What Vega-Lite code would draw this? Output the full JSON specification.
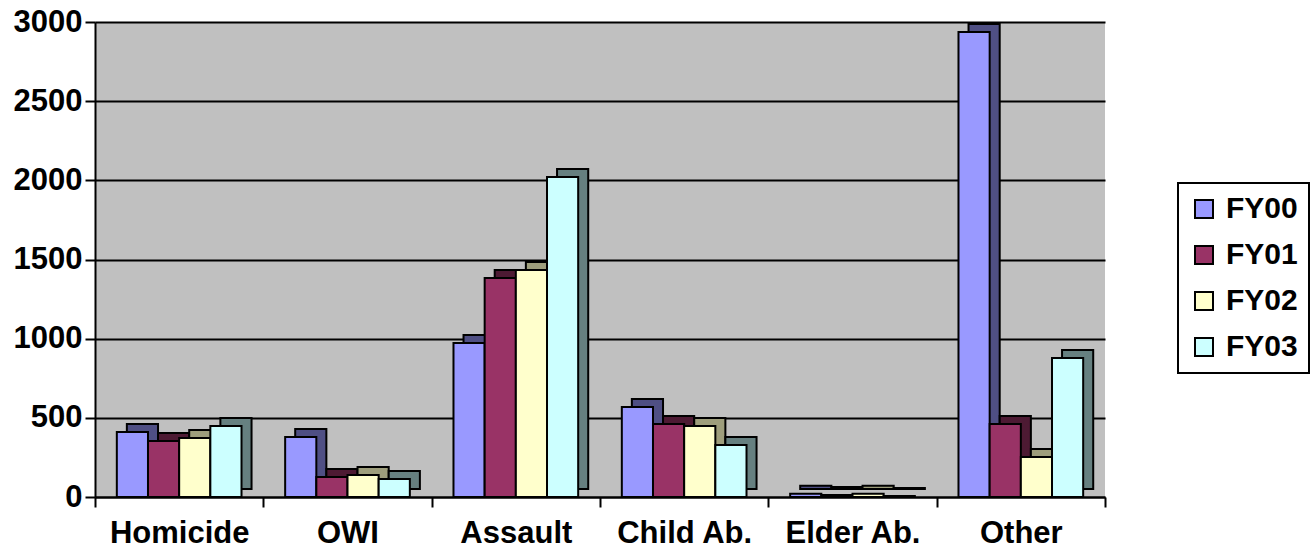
{
  "$schema": "https://vega.github.io/schema/vega-lite/v6.json",
  "autosize": {"type": "none"},
  "width": 1010,
  "height": 475,
  "padding": {"left": 95, "top": 22, "right": 207, "bottom": 51},
  "background": "white",
  "config": {
    "view": {"fill": "#c0c0c0", "stroke": null},
    "font": "Liberation Sans"
  },
  "data": {
    "values": [
      {"category": "Homicide", "year": "FY00", "value": 410},
      {"category": "Homicide", "year": "FY01", "value": 354},
      {"category": "Homicide", "year": "FY02", "value": 373},
      {"category": "Homicide", "year": "FY03", "value": 448},
      {"category": "OWI", "year": "FY00", "value": 379},
      {"category": "OWI", "year": "FY01", "value": 126},
      {"category": "OWI", "year": "FY02", "value": 139},
      {"category": "OWI", "year": "FY03", "value": 114},
      {"category": "Assault", "year": "FY00", "value": 973},
      {"category": "Assault", "year": "FY01", "value": 1383},
      {"category": "Assault", "year": "FY02", "value": 1434},
      {"category": "Assault", "year": "FY03", "value": 2021},
      {"category": "Child Ab.", "year": "FY00", "value": 568},
      {"category": "Child Ab.", "year": "FY01", "value": 461},
      {"category": "Child Ab.", "year": "FY02", "value": 448},
      {"category": "Child Ab.", "year": "FY03", "value": 328},
      {"category": "Elder Ab.", "year": "FY00", "value": 20},
      {"category": "Elder Ab.", "year": "FY01", "value": 12},
      {"category": "Elder Ab.", "year": "FY02", "value": 20},
      {"category": "Elder Ab.", "year": "FY03", "value": 6},
      {"category": "Other", "year": "FY00", "value": 2937},
      {"category": "Other", "year": "FY01", "value": 461},
      {"category": "Other", "year": "FY02", "value": 253},
      {"category": "Other", "year": "FY03", "value": 878}
    ]
  },
  "encoding": {
    "x": {
      "field": "category", "type": "nominal", "sort": null,
      "scale": {"paddingInner": 0, "paddingOuter": 0},
      "axis": {
        "title": null, "labelAngle": 0, "labelFont": "Liberation Sans", "labelFontSize": 31,
        "labelFontWeight": "bold", "labelColor": "black", "labelPadding": 11,
        "domainColor": "black", "domainWidth": 2, "tickColor": "black", "tickWidth": 2,
        "tickSize": 10, "tickBand": "extent", "grid": false
      }
    },
    "y": {
      "field": "value", "type": "quantitative",
      "scale": {"domain": [0, 3000], "nice": false},
      "axis": {
        "title": null, "values": [0, 500, 1000, 1500, 2000, 2500, 3000], "format": "d",
        "labelFont": "Liberation Sans", "labelFontSize": 31, "labelFontWeight": "bold",
        "labelColor": "black", "labelPadding": 3,
        "domainColor": "black", "domainWidth": 2, "tickColor": "black", "tickWidth": 2,
        "tickSize": 10, "grid": true, "gridColor": "black", "gridWidth": 2
      }
    }
  },
  "layer": [
    {
      "mark": {"type": "bar", "yOffset": -8, "stroke": "black", "strokeWidth": 2},
      "encoding": {
        "xOffset": {
          "field": "year", "type": "nominal", "sort": null,
          "scale": {"paddingInner": 0, "paddingOuter": 0.7, "align": 0.73}
        },
        "color": {
          "field": "year", "type": "nominal", "sort": null,
          "scale": {"domain": ["FY00", "FY01", "FY02", "FY03"], "range": ["#4f4f84", "#4d1a33", "#9e9e7c", "#668080"]},
          "legend": null
        }
      }
    },
    {
      "mark": {"type": "bar", "stroke": "black", "strokeWidth": 2},
      "encoding": {
        "xOffset": {
          "field": "year", "type": "nominal", "sort": null,
          "scale": {"paddingInner": 0, "paddingOuter": 0.7}
        },
        "color": {
          "field": "year", "type": "nominal", "sort": null, "title": null,
          "scale": {"domain": ["FY00", "FY01", "FY02", "FY03"], "range": ["#9999ff", "#993366", "#ffffcc", "#ccffff"]},
          "legend": {
            "orient": "none", "legendX": 1083, "legendY": 161,
            "symbolType": "square", "symbolSize": 324, "symbolStrokeColor": "black", "symbolStrokeWidth": 2,
            "symbolOpacity": 1,
            "labelFont": "Liberation Sans", "labelFontSize": 30, "labelFontWeight": "bold", "labelColor": "black",
            "labelOffset": 7, "rowPadding": 16, "padding": 11,
            "strokeColor": "black", "fillColor": "white",
            "encode": {"legend": {"update": {"strokeWidth": {"value": 2}}}}
          }
        }
      }
    }
  ],
  "resolve": {"scale": {"color": "independent", "xOffset": "independent"}}
}
